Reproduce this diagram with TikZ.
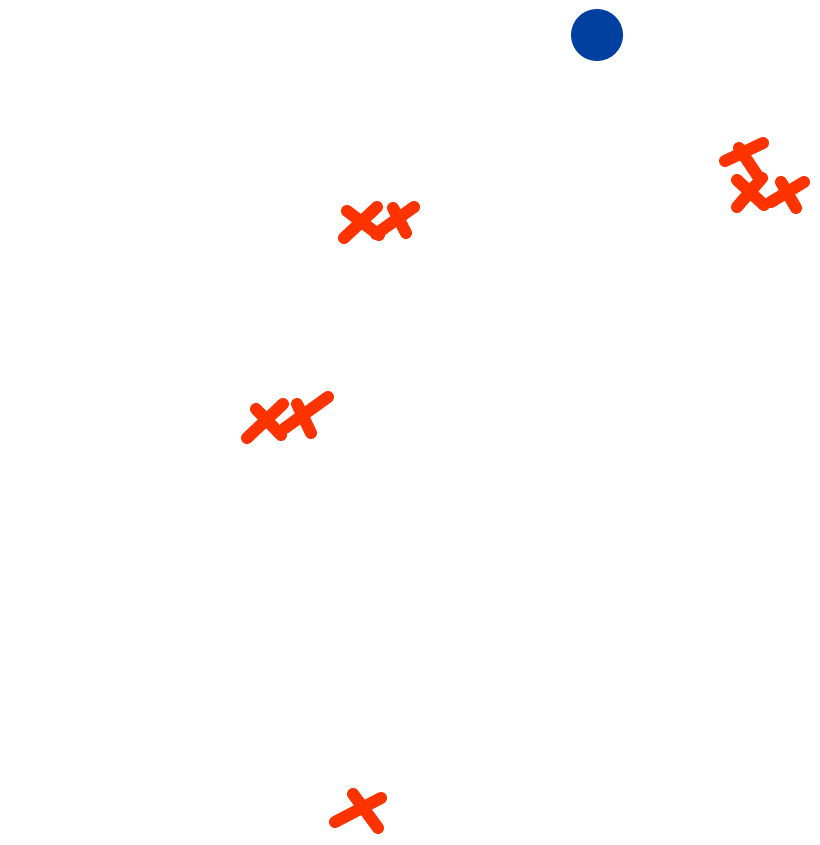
\documentclass[tikz,border=0pt]{standalone}
\begin{document}
\begin{tikzpicture}[x=1pt,y=-1pt,
  stroke/.style={draw=redx,line width=12pt,line cap=round}]
\definecolor{redx}{HTML}{FF3300}
\definecolor{bluex}{HTML}{0040A0}
\useasboundingbox[fill=white] (0,0) rectangle (819,845);
\fill[bluex] (597,35) circle (26);
% top right group
\draw[stroke] (725,161) -- (763,143);
\draw[stroke] (739,148) -- (757,175);
\draw[stroke] (737,180) -- (764,205);
\draw[stroke] (737,207) -- (762,178);
\draw[stroke] (771,202) -- (804,182);
\draw[stroke] (781,182) -- (796,208);
% upper XX
\draw[stroke] (347,211) -- (379,235);
\draw[stroke] (344,238) -- (377,207);
\draw[stroke] (376,234) -- (414,207);
\draw[stroke] (393,208) -- (406,233);
% middle XX
\draw[stroke] (256,409) -- (281,435);
\draw[stroke] (247,438) -- (283,404);
\draw[stroke] (285,428) -- (328,397);
\draw[stroke] (297,404) -- (311,433);
% bottom X
\draw[stroke] (335,822) -- (381,798);
\draw[stroke] (353,794) -- (378,828);
\end{tikzpicture}
\end{document}
